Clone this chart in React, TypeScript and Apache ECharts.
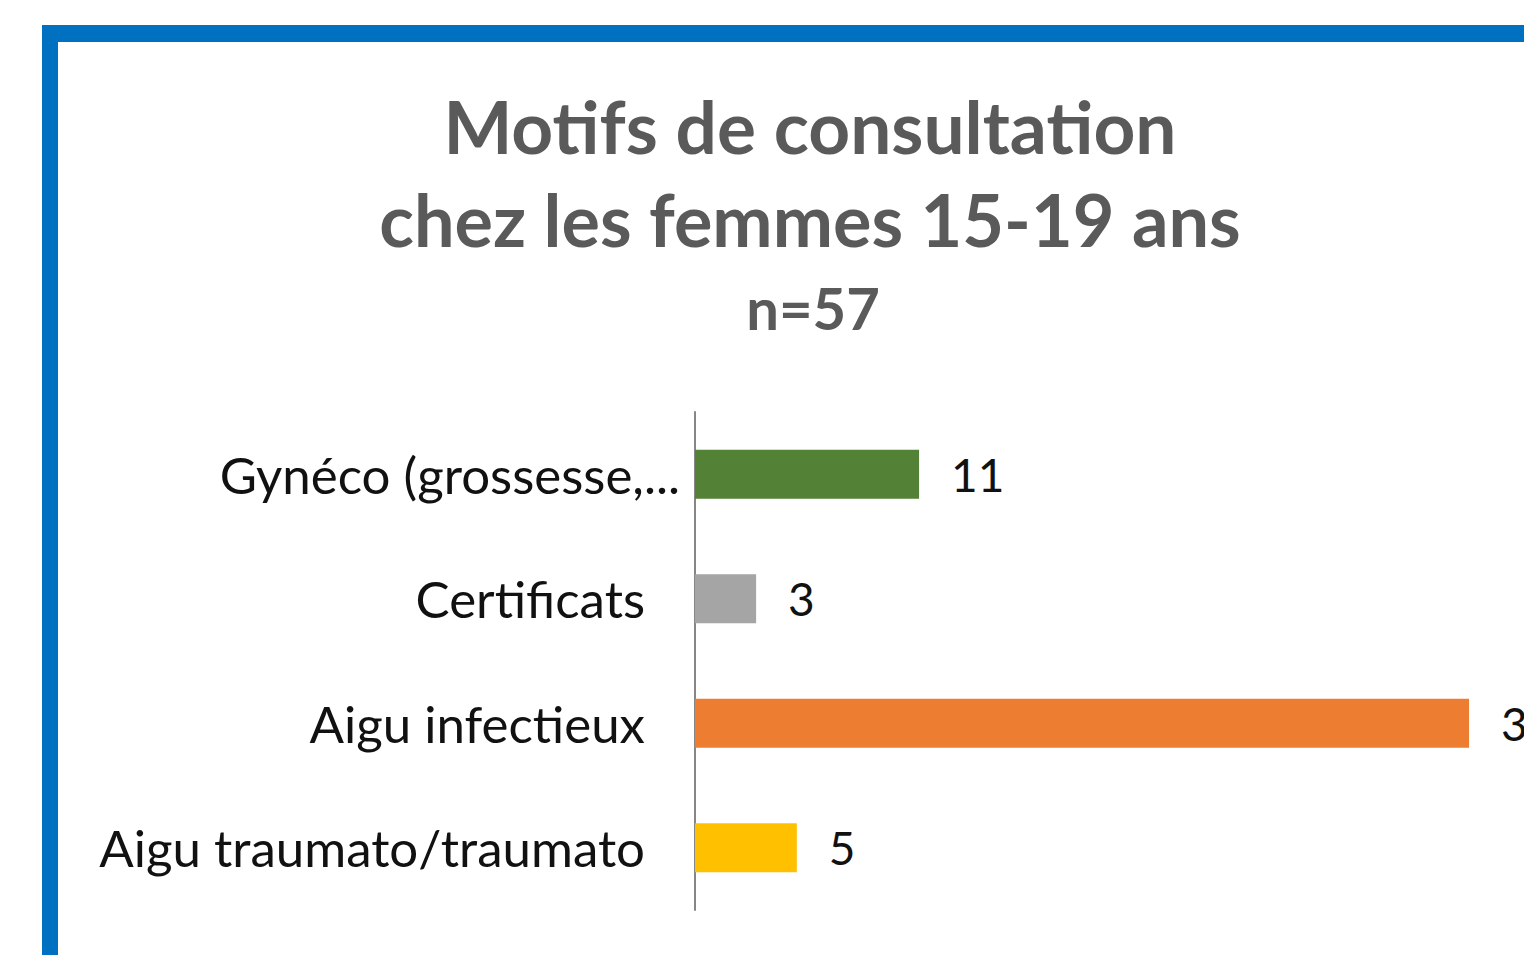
import React, { useEffect, useRef } from "react";
import * as echarts from "echarts";

const categories = ["Gynéco (grossesse,...", "Certificats", "Aigu infectieux", "Aigu traumato/traumato"];
const values = [11, 3, 38, 5];
const barColors = ["#538135", "#A5A5A5", "#ED7D31", "#FFC000"];
const titleLines = ["Motifs de consultation", "chez les femmes 15-19 ans", "n=57"];

export default function App() {
  const ref = useRef<HTMLDivElement>(null);
  useEffect(() => {
    if (!ref.current) return;
    const chart = echarts.init(ref.current, undefined, { renderer: "svg" });
    const font = "Lato, 'Open Sans', sans-serif";
    chart.setOption({
      animation: false,
      backgroundColor: "#ffffff",
      graphic: [
        { type: "rect", shape: { x: 42, y: 25, width: 1700, height: 17 }, style: { fill: "#0070C0" } },
        { type: "rect", shape: { x: 42, y: 25, width: 16, height: 1000 }, style: { fill: "#0070C0" } },
        { type: "text", x: 810, y: 126, style: { text: titleLines[0], fontFamily: font, fontWeight: "bold", fontSize: 73, fill: "#5a5a5a", align: "center", verticalAlign: "middle" } },
        { type: "text", x: 810, y: 219, style: { text: titleLines[1], fontFamily: font, fontWeight: "bold", fontSize: 72, fill: "#5a5a5a", align: "center", verticalAlign: "middle" } },
        { type: "text", x: 813, y: 307, style: { text: titleLines[2], fontFamily: font, fontWeight: "bold", fontSize: 58, fill: "#5a5a5a", align: "center", verticalAlign: "middle" } },
      ],
      grid: { left: 695, top: 412, width: 45 * 20.37, height: 498, containLabel: false },
      xAxis: {
        type: "value",
        min: 0,
        max: 45,
        show: false,
      },
      yAxis: {
        type: "category",
        data: categories,
        inverse: true,
        axisLine: { show: true, lineStyle: { color: "#868686", width: 2 } },
        axisTick: { show: false },
        axisLabel: {
          margin: 15,
          formatter: (v: string, i: number) => (i === 0 ? `{g|${v}}` : `{n|${v}}`),
          rich: {
            g: { fontFamily: font, fontSize: 51, color: "#111111" },
            n: { fontFamily: font, fontSize: 51, color: "#111111", padding: [0, 35, 0, 0] },
          },
        },
      },
      series: [
        {
          type: "bar",
          data: values.map((v, i) => ({ value: v, itemStyle: { color: barColors[i] } })),
          barWidth: 49,
          label: {
            show: true,
            position: "right",
            distance: 32,
            fontFamily: font,
            fontSize: 46,
            color: "#111111",
          },
        },
      ],
    });
    return () => chart.dispose();
  }, []);
  return (
    <div
      ref={ref}
      style={{ position: "fixed", left: 0, top: 0, width: 1700, height: 955 }}
    />
  );
}
